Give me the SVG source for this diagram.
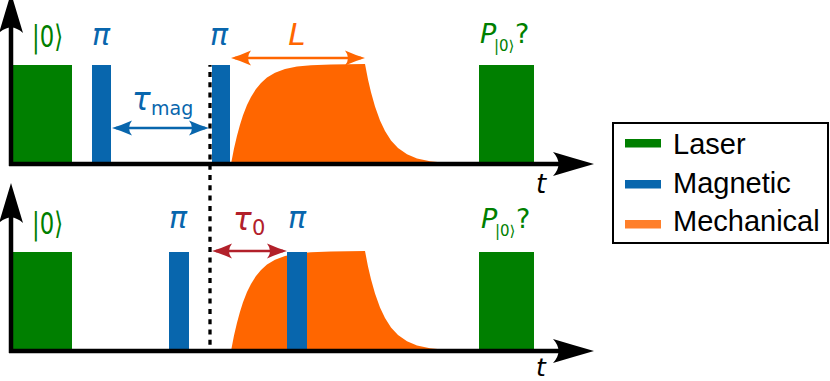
<svg xmlns="http://www.w3.org/2000/svg" width="830" height="381" viewBox="0 0 830 381">
<defs>
<style>
.laser{fill:#007f00}
.mag{fill:#0866ad}
.mech{fill:#ff6600}
.axis{stroke:#000;stroke-width:4.5;fill:none}
.head{fill:#000}
.math{font-family:"DejaVu Sans",sans-serif;font-style:italic}
.up{font-family:"DejaVu Sans",sans-serif}
.leg{font-family:"Liberation Sans",Arial,sans-serif;font-size:29px;fill:#000}
.dbl{stroke-width:2.6;fill:none}
</style>
<marker id="hb" viewBox="-16 -8 24 16" refX="0" refY="0" markerWidth="24" markerHeight="16" markerUnits="userSpaceOnUse" orient="auto-start-reverse">
<path d="M4,0 Q-6,-3 -16,-7.5 Q-10,0 -16,7.5 Q-6,3 4,0 Z" fill="#0866ad"/>
</marker>
<marker id="ho" viewBox="-16 -8 24 16" refX="0" refY="0" markerWidth="24" markerHeight="16" markerUnits="userSpaceOnUse" orient="auto-start-reverse">
<path d="M4,0 Q-6,-3 -16,-7.5 Q-10,0 -16,7.5 Q-6,3 4,0 Z" fill="#ff6600"/>
</marker>
<marker id="hr" viewBox="-16 -8 24 16" refX="0" refY="0" markerWidth="24" markerHeight="16" markerUnits="userSpaceOnUse" orient="auto-start-reverse">
<path d="M4,0 Q-6,-3 -16,-7.5 Q-10,0 -16,7.5 Q-6,3 4,0 Z" fill="#b2202a"/>
</marker>
<path id="mechShape" d="M231,164 L234,148.6 L237,135.7 L240,124.7 L243,115.3 L247,105.1 L251,96.9 L256,88.9 L261,82.9 L267,77.5 L275,72.7 L285,69 L297,66.6 L311,65.2 L331,64.4 L365,64 L368,79.4 L371,92.3 L375,106.6 L380,120.5 L385,131.1 L391,140.4 L398,148 L407,154.3 L417,158.4 L430,161.3 L445,162.8 L465,163.6 L470,164 Z"/>
</defs>

<g id="panel-top">
  <use id="mech-top" href="#mechShape" class="mech"/>
  <rect id="laser-init-top" class="laser" x="13" y="65" width="59" height="99"/>
  <rect id="pi1-top" class="mag" x="92" y="65" width="19" height="99"/>
  <rect id="pi2-top" class="mag" x="212" y="65" width="18" height="99"/>
  <rect id="laser-read-top" class="laser" x="479" y="65" width="55" height="99"/>
  <g id="axes-top">
    <path class="axis" d="M11,25 L11,166 M9,164 L570,164"/>
    <path class="head" d="M11,-7 Q5,13 -1,33 Q11,22 23,33 Q17,13 11,-7 Z"/>
    <path class="head" d="M594,164 Q573,158 553,152 Q564,164 553,176 Q573,170 594,164 Z"/>
  </g>
  <text class="up" x="32" y="47" font-size="31" fill="#007f00" textLength="31" lengthAdjust="spacingAndGlyphs">|0⟩</text>
  <text class="math" x="101" y="45" font-size="30" fill="#0866ad" text-anchor="middle">π</text>
  <text class="math" x="219" y="45" font-size="30" fill="#0866ad" text-anchor="middle">π</text>
  <text class="math" x="297" y="45" font-size="31" fill="#ff6600" text-anchor="middle">L</text>
  <text x="132" y="110" fill="#0866ad"><tspan class="math" font-size="31">τ</tspan><tspan class="up" font-size="19" x="151" y="115">mag</tspan></text>
  <text x="480" y="43" fill="#007f00"><tspan class="math" font-size="27">P</tspan><tspan class="up" font-size="15" x="494" y="51">|0⟩</tspan><tspan class="up" font-size="27" x="515" y="43">?</tspan></text>
  <text class="math" x="536" y="193" font-size="26" fill="#000">t</text>
</g>

<g id="panel-bottom">
  <use id="mech-bottom" href="#mechShape" class="mech" transform="translate(0,187)"/>
  <rect id="laser-init-bottom" class="laser" x="13" y="252" width="59" height="99"/>
  <rect id="pi1-bottom" class="mag" x="169" y="252" width="20" height="99"/>
  <rect id="pi2-bottom" class="mag" x="287" y="252" width="20" height="99"/>
  <rect id="laser-read-bottom" class="laser" x="479" y="252" width="55" height="99"/>
  <g id="axes-bottom">
    <path class="axis" d="M11,212 L11,353 M9,351 L570,351"/>
    <path class="head" d="M11,183 Q5,203 -1,223 Q11,212 23,223 Q17,203 11,183 Z"/>
    <path class="head" d="M594,351 Q573,345 553,339 Q564,351 553,363 Q573,357 594,351 Z"/>
  </g>
  <text class="up" x="32" y="234" font-size="31" fill="#007f00" textLength="31" lengthAdjust="spacingAndGlyphs">|0⟩</text>
  <text class="math" x="178" y="228" font-size="30" fill="#0866ad" text-anchor="middle">π</text>
  <text class="math" x="297" y="228" font-size="30" fill="#0866ad" text-anchor="middle">π</text>
  <text x="233" y="230" fill="#b2202a"><tspan class="math" font-size="31">τ</tspan><tspan class="up" font-size="21" x="252" y="235">0</tspan></text>
  <text x="481" y="228" fill="#007f00"><tspan class="math" font-size="27">P</tspan><tspan class="up" font-size="15" x="495" y="236">|0⟩</tspan><tspan class="up" font-size="27" x="516" y="228">?</tspan></text>
  <text class="math" x="536" y="376" font-size="25" fill="#000">t</text>
</g>

<g id="connectors">
  <line id="dashed-marker" x1="210" y1="65" x2="210" y2="350" stroke="#000" stroke-width="3.3" stroke-dasharray="5 5.3" stroke-dashoffset="3.3"/>
  <line id="arrow-tau-mag" class="dbl" x1="116" y1="128" x2="205" y2="128" stroke="#0866ad" marker-start="url(#hb)" marker-end="url(#hb)"/>
  <line id="arrow-L" class="dbl" x1="235" y1="58" x2="361" y2="58" stroke="#ff6600" marker-start="url(#ho)" marker-end="url(#ho)"/>
  <line id="arrow-tau0" class="dbl" x1="216" y1="251" x2="283" y2="251" stroke="#b2202a" marker-start="url(#hr)" marker-end="url(#hr)"/>
</g>

<g id="legend">
  <rect x="613" y="123" width="215" height="120" fill="#fff" stroke="#000" stroke-width="2"/>
  <g id="legend-laser"><rect x="625" y="139" width="36" height="8.5" fill="#007f00"/><text class="leg" x="673" y="154">Laser</text></g>
  <g id="legend-magnetic"><rect x="625" y="180" width="36" height="8.5" fill="#0866ad"/><text class="leg" x="673" y="193">Magnetic</text></g>
  <g id="legend-mechanical"><rect x="625" y="220" width="36" height="8.5" fill="#ff7f2a"/><text class="leg" x="673" y="231">Mechanical</text></g>
</g>
</svg>
